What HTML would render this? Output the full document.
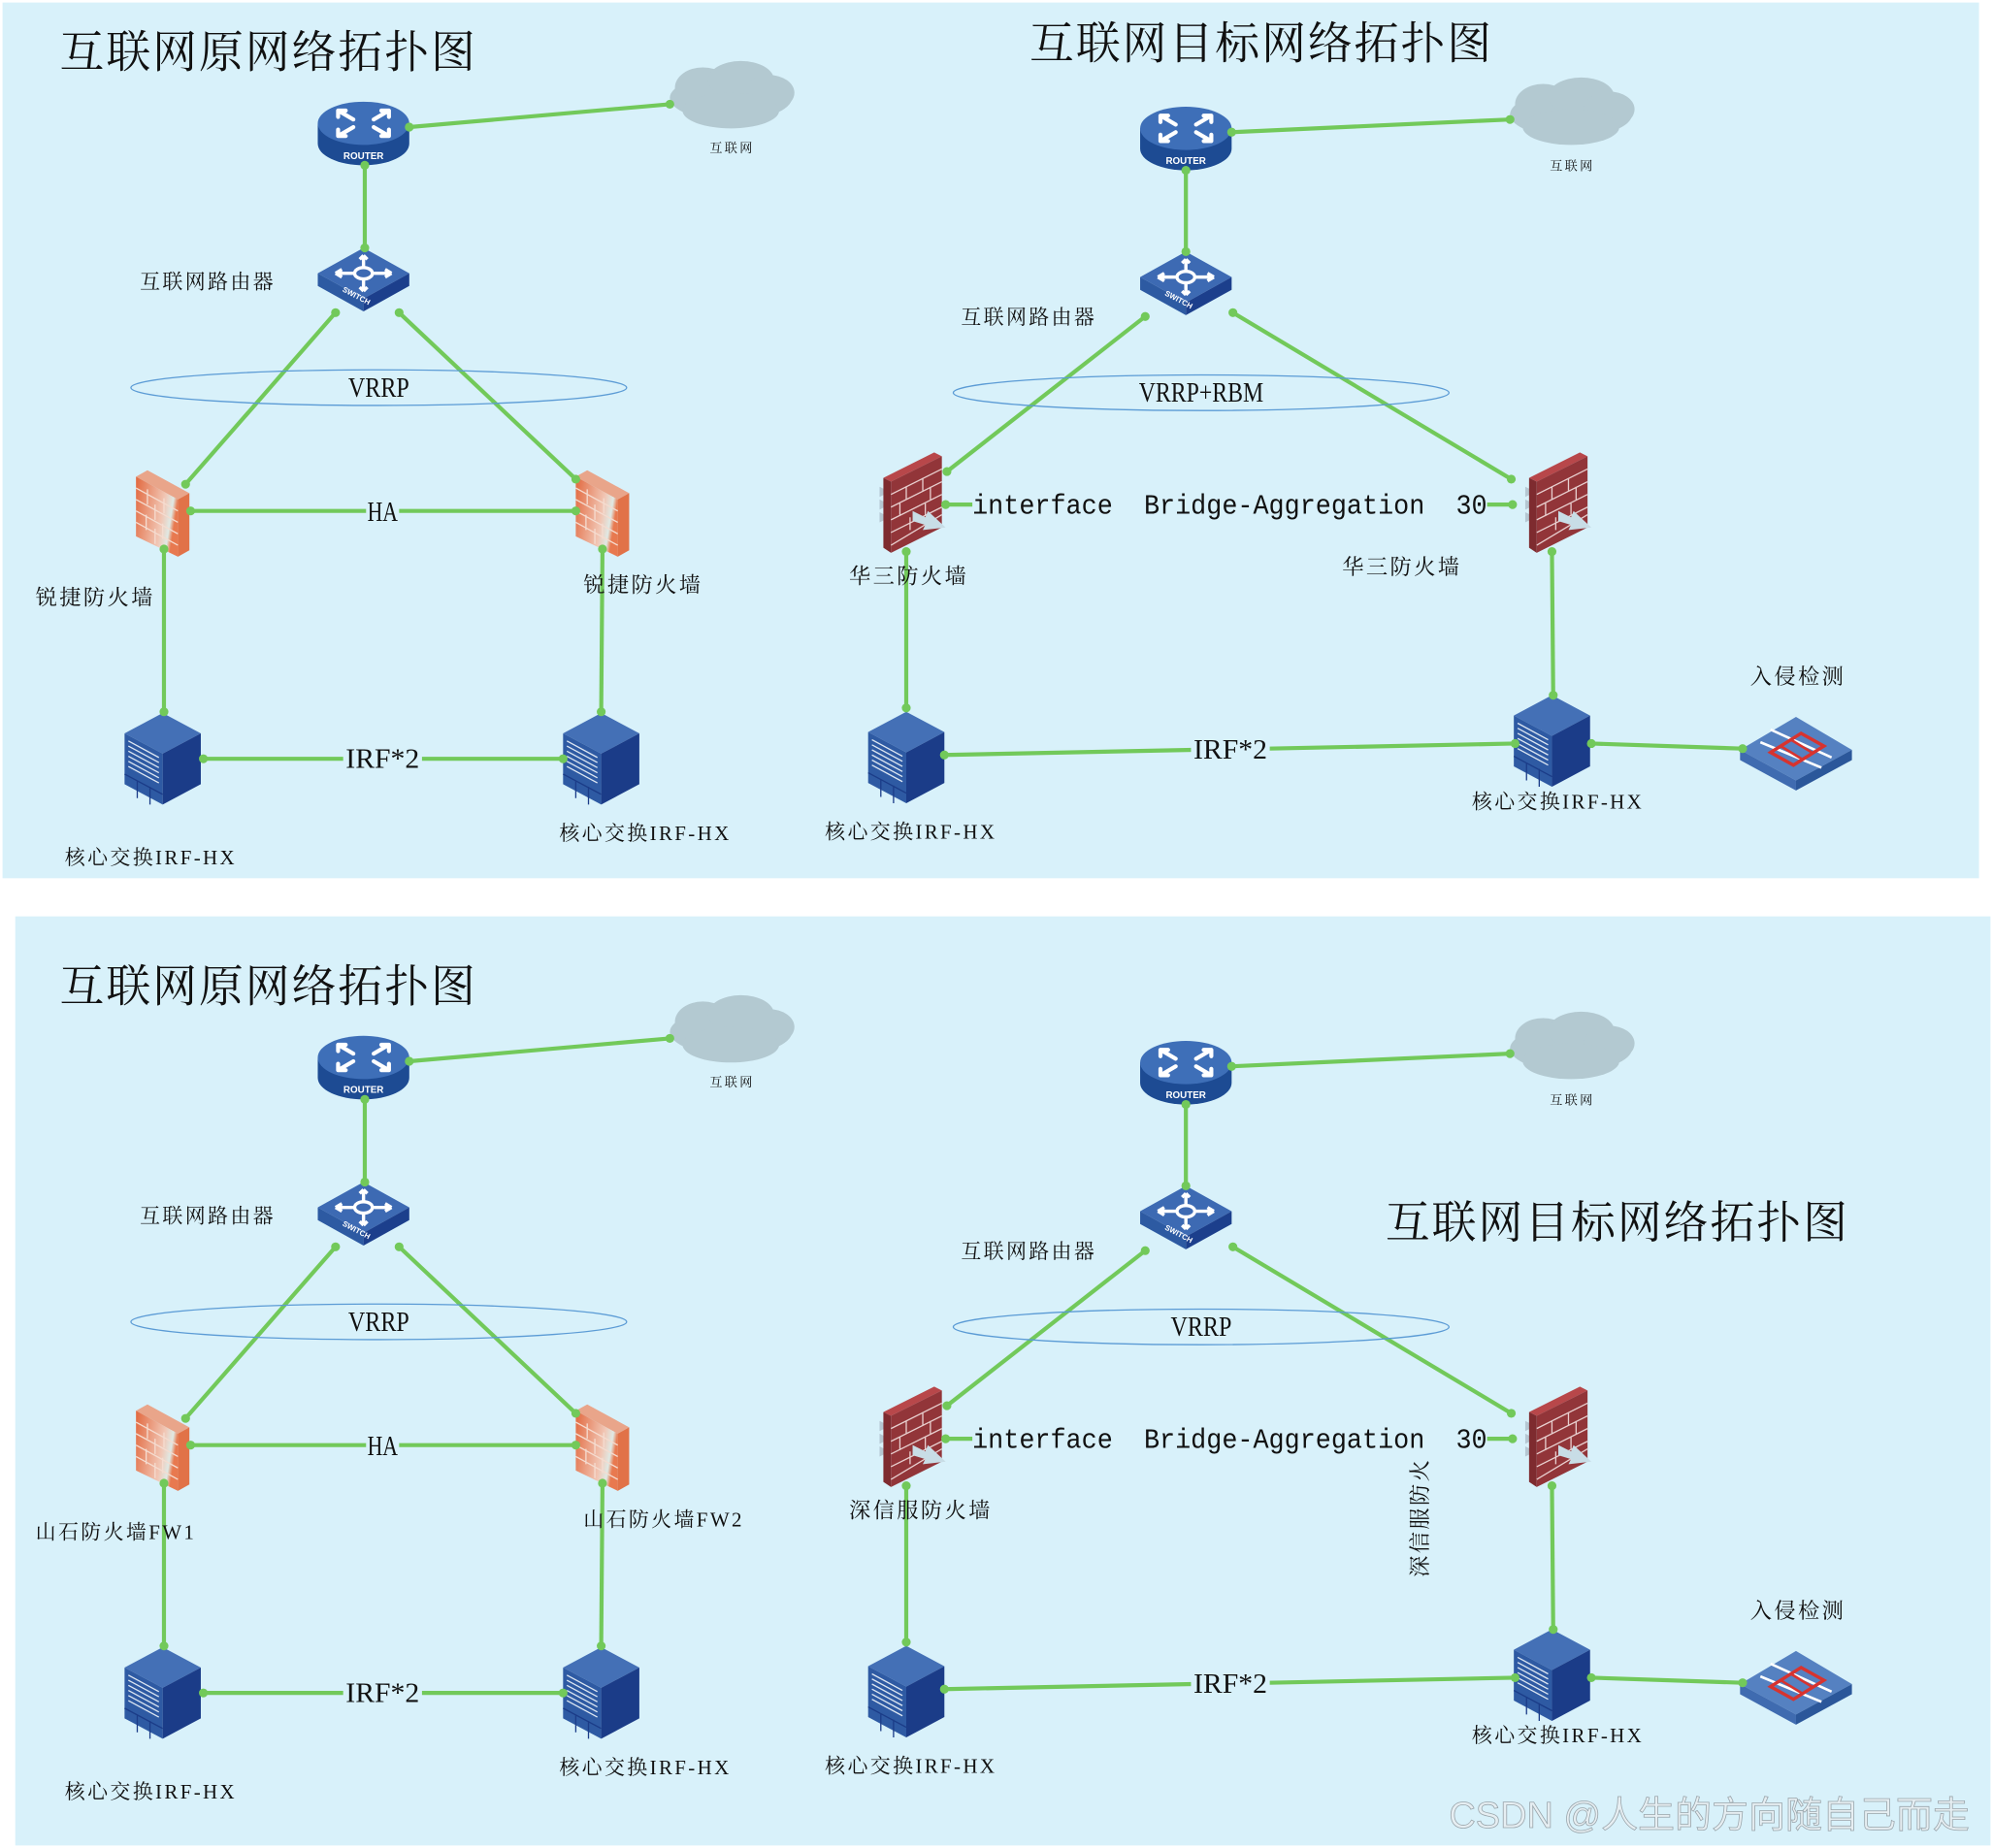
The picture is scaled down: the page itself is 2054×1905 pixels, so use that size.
<!DOCTYPE html>
<html><head><meta charset="utf-8"><style>
html,body{margin:0;padding:0;background:#fff;}
svg{display:block;}
.cn{font-family:"Liberation Serif","Noto Serif CJK SC",serif;fill:#111;letter-spacing:1.8px;}
.lat{font-family:"Liberation Serif",serif;fill:#111;}
.mono{font-family:"Liberation Mono",monospace;fill:#111;}
.ln{stroke:#72c95a;stroke-width:3.2;fill:none;}
.dot{fill:#72c95a;}
</style></head><body>
<svg width="2054" height="1905" viewBox="0 0 1568 1454" preserveAspectRatio="none" xmlns="http://www.w3.org/2000/svg">
<defs>
<linearGradient id="og" x1="0" y1="0" x2="1" y2="0.3">
<stop offset="0" stop-color="#e2683e"/><stop offset="0.7" stop-color="#f1c6b4"/><stop offset="0.9" stop-color="#dfe9e4"/><stop offset="1" stop-color="#e8794f"/></linearGradient>
<g id="router">
<path d="M-36,-6 V10 A36,17 0 0 0 36,10 V-6 Z" fill="#1d4b93"/>
<ellipse cx="0" cy="-6" rx="36" ry="17" fill="#3e6fb8"/>
<g stroke="#fff" stroke-width="3.2" fill="none" stroke-linecap="round">
<path d="M-20,-16 L-8,-9 M-20,-16 h6 M-20,-16 v5"/>
<path d="M20,-16 L8,-9 M20,-16 h-6 M20,-16 v5"/>
<path d="M-20,4 L-8,-3 M-20,4 h6 M-20,4 v-5"/>
<path d="M20,4 L8,-3 M20,4 h-6 M20,4 v-5"/>
</g>
<text x="0" y="22" font-family="Liberation Sans,sans-serif" font-weight="bold" font-size="7.5" fill="#fff" text-anchor="middle">ROUTER</text>
</g>
<g id="switch">
<path d="M-36,-2 L0,-22 L36,-2 L0,18 Z" fill="#3d6ab3"/>
<path d="M-36,-2 L0,18 L0,28 L-36,8 Z" fill="#2d5aa2"/>
<path d="M36,-2 L0,18 L0,28 L36,8 Z" fill="#1c3f8c"/>
<g stroke="#fff" stroke-width="2.6" fill="none"><ellipse cx="0" cy="-2" rx="7" ry="4.5"/><path d="M-8,-2 H-22 M8,-2 H22 M0,-7 V-16 M0,3 V12 M-22,-2 l5,-3 M-22,-2 l5,3 M22,-2 l-5,-3 M22,-2 l-5,3 M0,-16 l-3,3 M0,-16 l3,3 M0,12 l-3,-3 M0,12 l3,-3"/></g>
<text x="-17" y="12" font-family="Liberation Sans,sans-serif" font-weight="bold" font-size="6" fill="#fff" transform="rotate(28 -17 12)">SWITCH</text>
</g>
<g id="cloud" fill="#b3c9d1">
<ellipse cx="0" cy="0" rx="48" ry="18"/><ellipse cx="-22" cy="-8" rx="22" ry="16"/><ellipse cx="8" cy="-14" rx="26" ry="15"/><ellipse cx="30" cy="-4" rx="20" ry="14"/><ellipse cx="0" cy="10" rx="38" ry="14"/>
</g>
<g id="core">
<path d="M-30,-20 L0,-36 L30,-20 L0,-4 Z" fill="#4470b6"/>
<path d="M-30,-20 L0,-4 L0,36 L-30,20 Z" fill="#2e5aa3"/>
<path d="M30,-20 L0,-4 L0,36 L30,20 Z" fill="#1b3c88"/>
<g stroke="#dce6f2" stroke-width="1"><path d="M-27,-14 L-3,-1 M-27,-10 L-3,3 M-27,-6 L-3,7 M-27,-2 L-3,11 M-27,2 L-3,15 M-27,6 L-3,19"/></g>
<path d="M-30,12 L0,28 M-20,17 V31 M-10,22 V36" stroke="#1b3c88" stroke-width="1"/>
</g>
<g id="ofw">
<path d="M-21,-27 L-12,-32 L21,-14 L12,-9 Z" fill="#e9a58a"/>
<path d="M12,-9 L21,-14 L21,31 L12,36 Z" fill="#e17248"/>
<path d="M-21,-27 L12,-9 L12,36 L-21,20 Z" fill="url(#og)"/>
<g stroke="#f5dcd0" stroke-width="1" fill="none"><path d="M-21,-18 L12,0 M-21,-9 L12,9 M-21,0 L12,18 M-21,9 L12,27 M-12,-17 V-5 M1,-10 V2 M-6,-5 V7 M-13,3 V15 M0,10 V22 M-6,14 V26"/></g>
</g>
<g id="rfw">
<path d="M-26,-4 l8,4 l-8,4 z M-26,6 l8,4 l-8,4 z M-26,-14 l8,4 l-8,4 z" fill="#b5c7d2"/>
<path d="M-23,-21 L17,-41 L23,-38 L-17,-18 Z" fill="#b8474a"/>
<path d="M-23,-21 L-17,-18 L-17,38 L-23,34 Z" fill="#7e2b2f"/>
<path d="M-17,-18 L23,-38 L23,18 L-17,38 Z" fill="#923539"/>
<g stroke="#e8cfcf" stroke-width="1" fill="none"><path d="M-17,-8 L23,-28 M-17,2 L23,-18 M-17,12 L23,-8 M-17,22 L23,2 M-17,32 L23,8 M-5,-14 V-4 M8,-21 V-11 M-10,-1 V9 M14,-14 V-4 M-2,10 V20 M10,-1 V9"/></g>
<path d="M0,5 L10,10 L12,5 L26,18 L8,20 L10,16 L0,13 Z" fill="#c8dde6"/>
</g>
<g id="ids">
<path d="M-44,0 L0,-26 L44,0 L0,24 Z" fill="#5581c1"/>
<path d="M-44,0 L0,24 L0,32 L-44,8 Z" fill="#3f6bb0"/>
<path d="M44,0 L0,24 L0,32 L44,8 Z" fill="#2b579a"/>
<g stroke="#fff" stroke-width="2" fill="none"><path d="M-28,-6 L20,14 M-20,-16 L28,6"/></g>
<path d="M-20,2 L4,-13 L22,-3 L-2,12 Z" fill="none" stroke="#d7332f" stroke-width="2.6"/>
<path d="M-12,-3 L6,8 M-4,-8 L14,3" stroke="#d7332f" stroke-width="2"/>
</g>
</defs>

<rect x="2" y="2" width="1555" height="689" fill="#d8f1fa"/>
<rect x="12" y="721" width="1554" height="731" fill="#d8f1fa"/>

<g id="leftA">
<line class="ln" x1="322" y1="100" x2="527" y2="82"/>
<line class="ln" x1="287" y1="130" x2="287" y2="195"/>
<line class="ln" x1="264" y1="246" x2="146" y2="381"/>
<line class="ln" x1="314" y1="246" x2="453" y2="377"/>
<line class="ln" x1="150" y1="402" x2="453" y2="402"/>
<line class="ln" x1="129" y1="432" x2="129" y2="560"/>
<line class="ln" x1="474" y1="432" x2="473" y2="560"/>
<line class="ln" x1="160" y1="597" x2="443" y2="597"/>
<use href="#cloud" x="575" y="77"/>
<use href="#router" x="286" y="103"/>
<use href="#switch" x="286" y="217"/>
<ellipse cx="298" cy="305" rx="195" ry="14" fill="none" stroke="#5b9bd5" stroke-width="1"/>
<use href="#ofw" x="128" y="402"/>
<use href="#ofw" x="474" y="402"/>
<use href="#core" x="128" y="597"/>
<use href="#core" x="473" y="597"/>
<g class="dot"><circle cx="322" cy="100" r="3.5"/><circle cx="527" cy="82" r="3.5"/><circle cx="287" cy="130" r="3.5"/><circle cx="287" cy="195" r="3.5"/><circle cx="264" cy="246" r="3.5"/><circle cx="314" cy="246" r="3.5"/><circle cx="146" cy="381" r="3.5"/><circle cx="453" cy="377" r="3.5"/><circle cx="150" cy="402" r="3.5"/><circle cx="453" cy="402" r="3.5"/><circle cx="129" cy="432" r="3.5"/><circle cx="129" cy="560" r="3.5"/><circle cx="474" cy="432" r="3.5"/><circle cx="473" cy="560" r="3.5"/><circle cx="160" cy="597" r="3.5"/><circle cx="443" cy="597" r="3.5"/></g>
<text class="cn" x="576" y="120" font-size="10" text-anchor="middle">互联网</text>
<text class="cn" x="110" y="227" font-size="16">互联网路由器</text>
<text class="lat" x="298" y="312" font-size="22" text-anchor="middle" textLength="48" lengthAdjust="spacingAndGlyphs">VRRP</text>
<rect x="288" y="391" width="26" height="22" fill="#d8f1fa"/>
<text class="lat" x="301" y="410" font-size="22" text-anchor="middle" textLength="24" lengthAdjust="spacingAndGlyphs">HA</text>
<rect x="270" y="586" width="62" height="22" fill="#d8f1fa"/>
<text class="lat" x="301" y="604" font-size="22" text-anchor="middle" textLength="58" lengthAdjust="spacingAndGlyphs">IRF*2</text>
<text class="cn" x="51" y="680" font-size="16">核心交换IRF-HX</text>
<text class="cn" x="440" y="661" font-size="16">核心交换IRF-HX</text>
</g>
<text class="cn" x="47" y="53" font-size="35" style="letter-spacing:1.5px">互联网原网络拓扑图</text>
<text class="cn" x="28" y="476" font-size="17">锐捷防火墙</text>
<text class="cn" x="459" y="466" font-size="17">锐捷防火墙</text>

<g id="rightA">
<line class="ln" x1="969" y1="104" x2="1188" y2="94"/>
<line class="ln" x1="933" y1="134" x2="933" y2="198"/>
<line class="ln" x1="901" y1="249" x2="745" y2="371"/>
<line class="ln" x1="970" y1="246" x2="1189" y2="377"/>
<line class="ln" x1="744" y1="397" x2="765" y2="397"/>
<line class="ln" x1="1170" y1="397" x2="1190" y2="397"/>
<line class="ln" x1="713" y1="434" x2="713" y2="557"/>
<line class="ln" x1="1221" y1="434" x2="1222" y2="547"/>
<line class="ln" x1="743" y1="594" x2="938" y2="590"/>
<line class="ln" x1="998" y1="589" x2="1192" y2="585"/>
<line class="ln" x1="1252" y1="585" x2="1371" y2="589"/>
<use href="#cloud" x="1236" y="90"/>
<use href="#router" x="933" y="107"/>
<use href="#switch" x="933" y="220"/>
<ellipse cx="945" cy="309" rx="195" ry="14" fill="none" stroke="#5b9bd5" stroke-width="1"/>
<use href="#rfw" x="718" y="397"/>
<use href="#rfw" x="1226" y="397"/>
<use href="#core" x="713" y="596"/>
<use href="#core" x="1221" y="583"/>
<use href="#ids" x="1413" y="590"/>
<g class="dot"><circle cx="969" cy="104" r="3.5"/><circle cx="1188" cy="94" r="3.5"/><circle cx="933" cy="134" r="3.5"/><circle cx="933" cy="198" r="3.5"/><circle cx="901" cy="249" r="3.5"/><circle cx="970" cy="246" r="3.5"/><circle cx="745" cy="371" r="3.5"/><circle cx="1189" cy="377" r="3.5"/><circle cx="744" cy="397" r="3.5"/><circle cx="1190" cy="397" r="3.5"/><circle cx="713" cy="434" r="3.5"/><circle cx="713" cy="557" r="3.5"/><circle cx="1221" cy="434" r="3.5"/><circle cx="1222" cy="547" r="3.5"/><circle cx="743" cy="594" r="3.5"/><circle cx="1192" cy="585" r="3.5"/><circle cx="1252" cy="585" r="3.5"/><circle cx="1371" cy="589" r="3.5"/></g>
<text class="cn" x="1237" y="134" font-size="10" text-anchor="middle">互联网</text>
<text class="cn" x="756" y="255" font-size="16">互联网路由器</text>
<text class="mono" x="765" y="404" font-size="22" textLength="405" lengthAdjust="spacingAndGlyphs" xml:space="preserve">interface  Bridge-Aggregation  30</text>
<rect x="937" y="578" width="62" height="22" fill="#d8f1fa"/>
<text class="lat" x="968" y="597" font-size="22" text-anchor="middle" textLength="58" lengthAdjust="spacingAndGlyphs">IRF*2</text>
<text class="cn" x="1377" y="538" font-size="17">入侵检测</text>
<text class="cn" x="649" y="660" font-size="16">核心交换IRF-HX</text>
<text class="cn" x="1158" y="636" font-size="16">核心交换IRF-HX</text>
</g>
<text class="cn" x="810" y="46" font-size="35" style="letter-spacing:1.5px">互联网目标网络拓扑图</text>
<text class="lat" x="945" y="316" font-size="22" text-anchor="middle" textLength="98" lengthAdjust="spacingAndGlyphs">VRRP+RBM</text>
<text class="cn" x="668" y="459" font-size="17">华三防火墙</text>
<text class="cn" x="1056" y="452" font-size="17">华三防火墙</text>

<use href="#leftA" y="735"/>
<use href="#rightA" y="735"/>
<text class="cn" x="47" y="788" font-size="35" style="letter-spacing:1.5px">互联网原网络拓扑图</text>
<text class="cn" x="28" y="1211" font-size="16">山石防火墙FW1</text>
<text class="cn" x="459" y="1201" font-size="16">山石防火墙FW2</text>
<text class="cn" x="1090" y="974" font-size="35" style="letter-spacing:1.5px">互联网目标网络拓扑图</text>
<text class="lat" x="945" y="1051" font-size="22" text-anchor="middle" textLength="48" lengthAdjust="spacingAndGlyphs">VRRP</text>
<text class="cn" x="668" y="1194" font-size="17">深信服防火墙</text>
<text class="cn" font-size="17" transform="translate(1123,1241) rotate(-90)">深信服防火</text>
<text x="1140" y="1438" font-family="Liberation Sans,'Noto Sans CJK SC',sans-serif" font-size="29" fill="#e6eef2" stroke="#9aa5ab" stroke-width="0.6">CSDN @人生的方向随自己而走</text>
</svg>
</body></html>
